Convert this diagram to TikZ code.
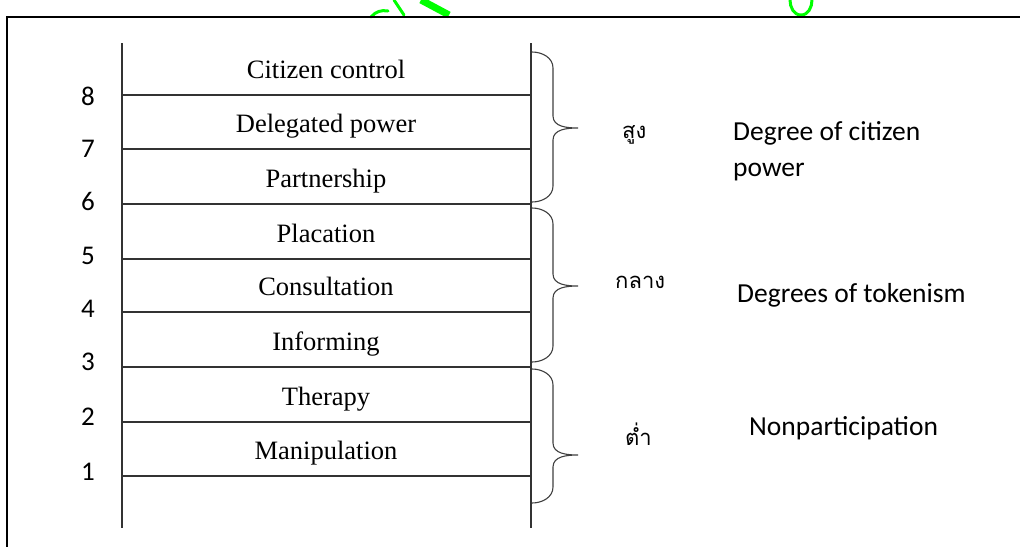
\documentclass[tikz,border=0pt]{standalone}
\usepackage{fontspec}
\setmainfont{Liberation Serif}
\newfontfamily\calfont{Carlito}
\newfontfamily\thaifont[Script=Thai]{Loma}
\definecolor{mark}{RGB}{0,255,0}
\begin{document}
\begin{tikzpicture}[x=1pt,y=-1pt,
  frame/.style={draw=black,line width=2pt},
  rail/.style={draw=black!80,line width=1.1pt},
  rung/.style={draw=black!80,line width=1.1pt},
  brc/.style={draw=black!75,line width=1.1pt},
  lbl/.style={font=\fontsize{26.5}{30}\selectfont,anchor=base,inner sep=0pt},
  num/.style={font=\calfont\fontsize{27}{30}\selectfont,anchor=base,inner sep=0pt},
  side/.style={font=\calfont\fontsize{27.5}{36}\selectfont,anchor=base west,inner sep=0pt,align=left},
  thai/.style={font=\thaifont\fontsize{22}{26}\selectfont,anchor=base west,inner sep=0pt},
  scrib/.style={draw=mark,line width=3pt,line cap=round}]
\useasboundingbox (0,0) rectangle (1020,547);
\fill[white] (0,0) rectangle (1020,547);
% green artefacts at the top
\draw[scrib] (371,17) to[bend left=30] (388,11);
\draw[scrib] (394,0) -- (404,15);
\draw[draw=mark,line width=7pt] (421,0) -- (449,15);
\draw[scrib] (790,0) to[out=-90,in=180] (801,15) to[out=0,in=-90] (812,0);
% frame
\coordinate (fTR) at (1020,17);
\coordinate (fTL) at (7,17);
\coordinate (fBL) at (7,547);
\draw[frame] (fTR) -- (fTL) -- (fBL);
% ladder rails
\coordinate (lt) at (122,43); \coordinate (lb) at (122,528);
\coordinate (rt) at (531,43); \coordinate (rb) at (531,528);
\draw[rail] (lt) -- (lb);
\draw[rail] (rt) -- (rb);
% rungs, labels
\foreach \i/\y/\t in {8/95/Citizen control,7/149/Delegated power,6/204/Partnership,5/259/Placation,4/312/Consultation,3/367/Informing,2/422/Therapy,1/476/Manipulation}{
  \coordinate (a\i) at (122,\y);
  \coordinate (b\i) at (531,\y);
  \draw[rung] (a\i) -- (b\i);
  \node[lbl] (t\i) at (326,\y-17) {\t};
}
% numbers
\node[num] (n8) at (88,105) {8};
\node[num] (n7) at (88,157) {7};
\node[num] (n6) at (88,210) {6};
\node[num] (n5) at (88,264) {5};
\node[num] (n4) at (88,317) {4};
\node[num] (n3) at (88,370) {3};
\node[num] (n2) at (88,425) {2};
\node[num] (n1) at (88,480) {1};
% braces
\foreach \k/\top/\tip/\bot in {h/52/128/202,m/208/286/362,l/369/455/503}{
  \coordinate (\k s) at (532,\top);
  \coordinate (\k t) at (578,\tip);
  \coordinate (\k e) at (532,\bot);
  \draw[brc] (\k s) to[out=0,in=90] (553,\top+16) -- (553,\tip-12)
     to[out=-90,in=180] (\k t) to[out=180,in=90] (553,\tip+12)
     -- (553,\bot-16) to[out=-90,in=0] (\k e);
}
% Thai labels
\node[thai] (th) at (622,138) {สูง};
\node[thai] (tm) at (615,288) {กลาง};
\node[thai] (tl) at (625,445) {ต่ำ};
% side labels
\node[side,anchor=north west] (sh) at (733,121) {Degree of citizen\\power};
\node[side] (sm) at (737,302) {Degrees of tokenism};
\node[side] (sl) at (749,435) {Nonparticipation};
\end{tikzpicture}
\end{document}
